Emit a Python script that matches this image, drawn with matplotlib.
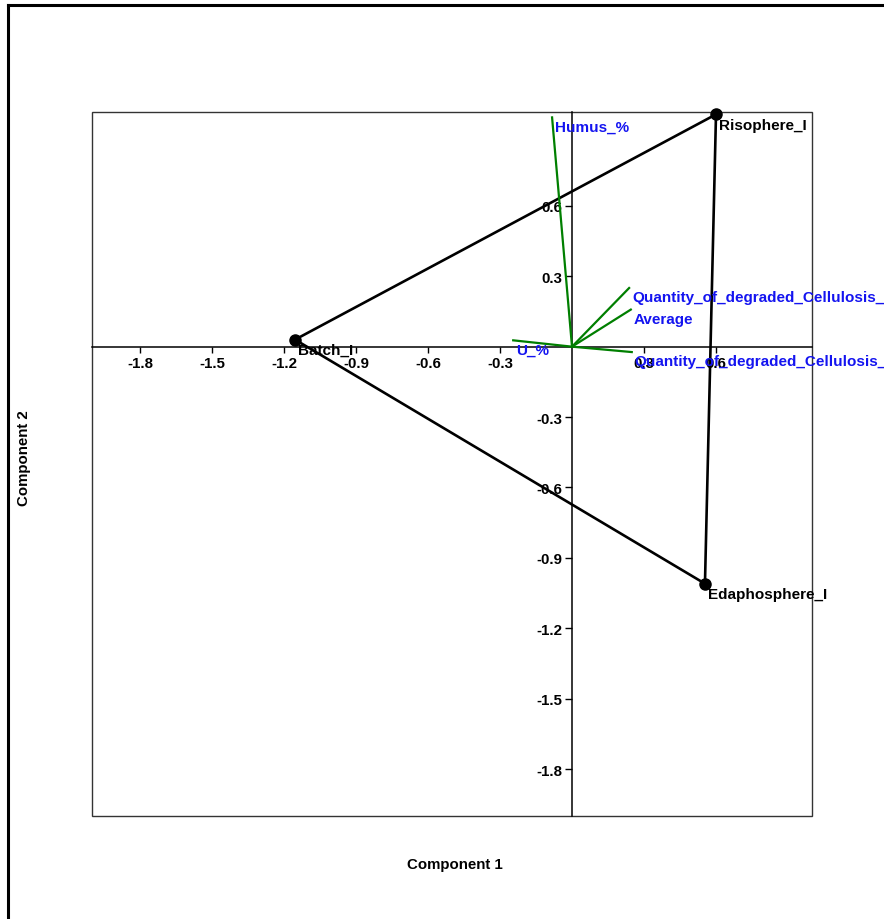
"""
Biplot (PCA) of three soil samples with the variable loadings drawn as vectors.
"""

import matplotlib
matplotlib.use("Agg")
import matplotlib.pyplot as plt
from matplotlib.lines import Line2D
from matplotlib.patches import Rectangle

plt.rcParams["font.family"] = ["Liberation Sans", "DejaVu Sans"]
plt.rcParams["font.weight"] = "bold"

# sample scores (component 1, component 2)
samples = ["Risophere_I", "Batch_I", "Edaphosphere_I"]
score_x = [0.600, -1.154, 0.554]
score_y = [0.990, 0.030, -1.010]

# variable loadings
variables = ["Humus_%", "Quantity_of_degraded_Cellulosis_", "Average",
             "Quantity_of_degraded_Cellulosis_", "U_%"]
load_x = [-0.083, 0.238, 0.245, 0.249, -0.245]
load_y = [0.977, 0.250, 0.158, -0.023, 0.027]

ticks = [-1.8, -1.5, -1.2, -0.9, -0.6, -0.3, 0.3, 0.6]
tick_labels = ["-1.8", "-1.5", "-1.2", "-0.9", "-0.6", "-0.3", "0.3", "0.6"]

W, H = 884, 920
fig = plt.figure(figsize=(W / 100, H / 100), dpi=100)
ax = fig.add_axes([92 / W, 1 - 817 / H, 720 / W, 704 / H])
ax.set_xlim(-2.0, 1.0)
ax.set_ylim(-2.0, 1.0)

# axes through the origin carry the ticks
for side in ["left", "bottom"]:
    ax.spines[side].set_position(("data", 0))
    ax.spines[side].set_linewidth(1.1)
    ax.spines[side].set_color("black")
ax.spines["top"].set_visible(False)
ax.spines["right"].set_visible(False)
ax.add_patch(Rectangle((0, 0), 1, 1, transform=ax.transAxes, fill=False,
                       edgecolor="#333333", linewidth=1.0, clip_on=False, zorder=1))

ax.set_xticks(ticks)
ax.set_xticklabels(tick_labels)
ax.set_yticks(ticks)
ax.set_yticklabels(tick_labels)
ax.tick_params(axis="x", direction="out", length=4, width=1, pad=3, labelsize=10.8)
ax.tick_params(axis="y", direction="out", length=5, width=1, pad=2, labelsize=10.8)

# convex hull of the samples
hull = [0, 2, 1, 0]
ax.plot([score_x[i] for i in hull], [score_y[i] for i in hull],
        color="black", linewidth=1.9, zorder=3, clip_on=False)
ax.plot(score_x, score_y, "o", color="black", markersize=8, zorder=4, clip_on=False)
for name, x, y in zip(samples, score_x, score_y):
    ax.annotate(name, (x, y), xytext=(2, -2.5), textcoords="offset points",
                ha="left", va="top", fontsize=11, fontweight="bold",
                color="black", zorder=5)

# loading vectors
for name, x, y in zip(variables, load_x, load_y):
    ax.plot([0, x], [0, y], color="#007f00", linewidth=1.6, zorder=3)
    ax.annotate(name, (x, y), xytext=(2, -1.5), textcoords="offset points",
                ha="left", va="top", fontsize=11, fontweight="bold",
                color="#1414f0", zorder=5, annotation_clip=False)

fig.text(455 / W, 1 - 865 / H, "Component 1", ha="center", va="center",
         fontsize=10.8, fontweight="bold")
fig.text(24 / W, 1 - 458 / H, "Component 2", ha="center", va="center",
         rotation=90, fontsize=10.8, fontweight="bold")

# outer frame (only left and top edges fall inside the image)
fig.add_artist(Line2D([8.3 / W, 8.3 / W], [0, 1 - 5.5 / H], color="black",
                      linewidth=2.2, transform=fig.transFigure))
fig.add_artist(Line2D([8.3 / W, 1], [1 - 5.5 / H, 1 - 5.5 / H], color="black",
                      linewidth=2.2, transform=fig.transFigure))

fig.savefig("out.png", dpi=100)
